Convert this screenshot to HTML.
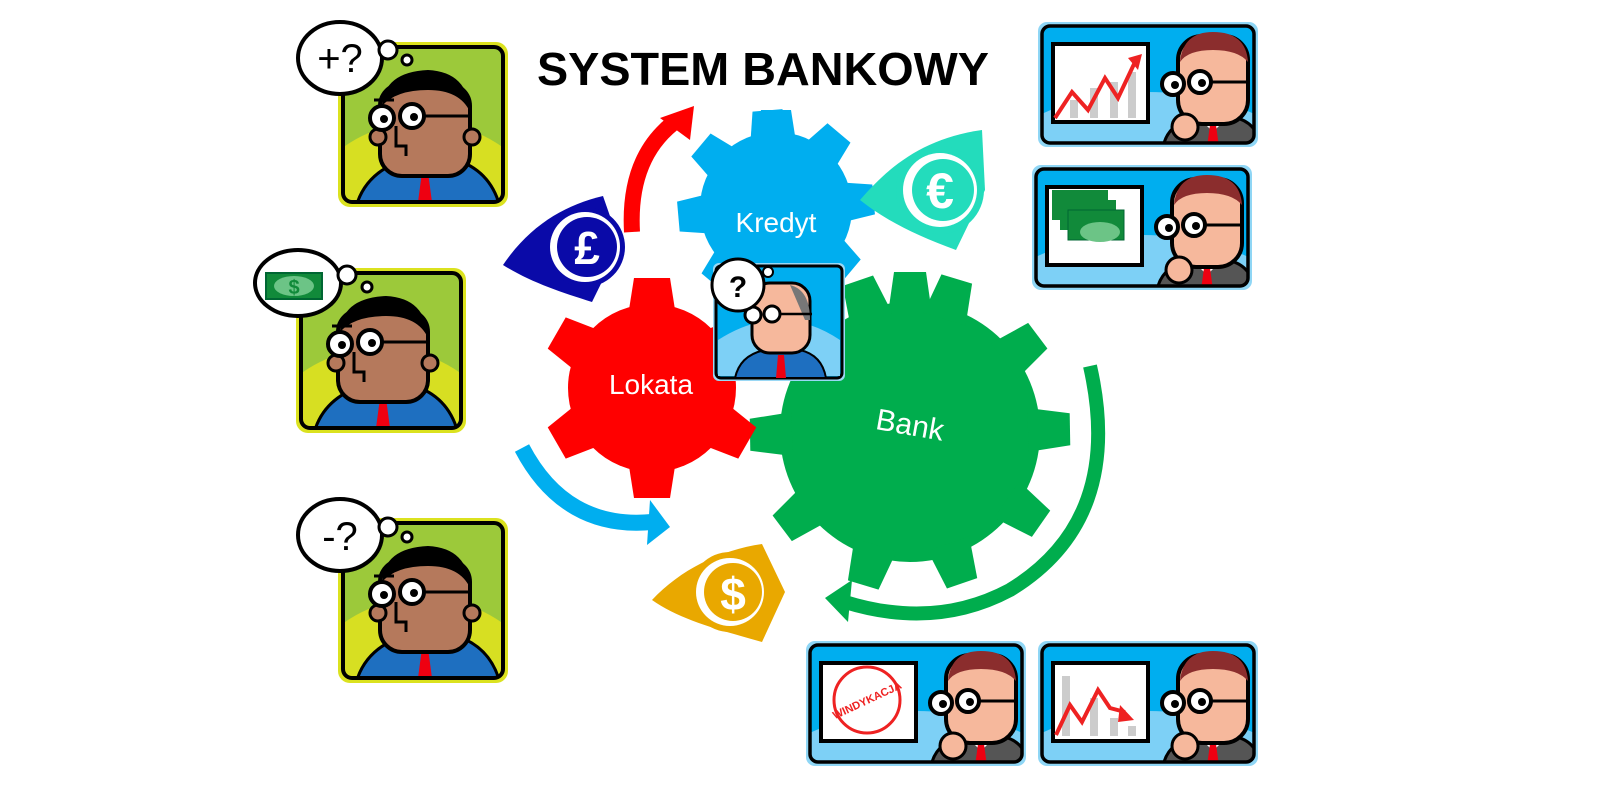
<!DOCTYPE html>
<html><head><meta charset="utf-8"><style>
html,body{margin:0;padding:0;background:#fff;width:1600px;height:803px;overflow:hidden;}
svg{display:block;position:absolute;left:0;top:0;}
text{font-family:"Liberation Sans",sans-serif;}
</style></head><body>
<svg width="1600" height="803" viewBox="0 0 1600 803" xmlns="http://www.w3.org/2000/svg">
<defs>
<clipPath id="lcc"><rect x="6" y="6" width="158" height="153" rx="8"/></clipPath>
<symbol id="lc" viewBox="0 0 170 165">
  <rect x="0" y="0" width="170" height="165" rx="12" fill="#dbe21f"/>
  <g clip-path="url(#lcc)">
    <rect x="6" y="6" width="158" height="153" fill="#9cc93a"/>
    <ellipse cx="85" cy="200" rx="130" ry="120" fill="#d7df22"/>
    <path d="M18,165 Q28,128 72,116 L112,116 Q152,126 162,165 Z" fill="#1e6fc0" stroke="#000" stroke-width="3"/>
    <path d="M70,116 L87,140 L104,116 Z" fill="#fff"/>
    <path d="M84,130 L90,130 L94,160 L87,165 L80,160 Z" fill="#e01"/>
    <rect x="42" y="42" width="90" height="92" rx="22" fill="#b5795c" stroke="#000" stroke-width="4"/>
    <path d="M44,64 Q46,30 90,28 Q130,30 132,70 Q122,48 90,48 Q58,48 44,64 Z" fill="#000"/>
    <circle cx="40" cy="95" r="8" fill="#b5795c" stroke="#000" stroke-width="3"/>
    <circle cx="134" cy="95" r="8" fill="#b5795c" stroke="#000" stroke-width="3"/>
    <circle cx="44" cy="76" r="12" fill="#fff" stroke="#000" stroke-width="4"/>
    <circle cx="74" cy="74" r="12" fill="#fff" stroke="#000" stroke-width="4"/>
    <circle cx="46" cy="77" r="4"/><circle cx="76" cy="75" r="4"/>
    <path d="M86,74 L130,74 M56,58 L36,58 M58,84 L58,104 L68,104 L68,114" stroke="#000" stroke-width="3" fill="none"/>
  </g>
  <rect x="5" y="5" width="160" height="155" rx="9" fill="none" stroke="#000" stroke-width="4"/>
</symbol>
<clipPath id="rcc"><rect x="5" y="5" width="210" height="115" rx="7"/></clipPath>
<symbol id="rc" viewBox="0 0 220 125">
  <rect x="0" y="0" width="220" height="125" rx="9" fill="#8fd6f5"/>
  <g clip-path="url(#rcc)">
    <rect x="5" y="5" width="210" height="115" fill="#00aeef"/>
    <ellipse cx="110" cy="170" rx="170" ry="100" fill="#7dd0f6"/>
    <rect x="15" y="22" width="95" height="78" fill="#fff" stroke="#000" stroke-width="4"/>
    <path d="M125,125 Q130,100 160,95 L195,95 Q220,100 222,125 Z" fill="#555" stroke="#000" stroke-width="3"/>
    <path d="M160,95 L175,110 L190,95 Z" fill="#fff"/>
    <path d="M172,103 L178,103 L181,125 L169,125 Z" fill="#e01"/>
    <rect x="140" y="14" width="70" height="88" rx="24" fill="#f6b89c" stroke="#000" stroke-width="4"/>
    <path d="M142,40 Q145,10 175,10 Q208,10 210,40 Q200,28 175,28 Q150,28 142,40 Z" fill="#8b2d2d"/>
    <circle cx="135" cy="62" r="11" fill="#fff" stroke="#000" stroke-width="4"/>
    <circle cx="162" cy="60" r="11" fill="#fff" stroke="#000" stroke-width="4"/>
    <circle cx="137" cy="63" r="4"/><circle cx="164" cy="61" r="4"/>
    <path d="M173,60 L210,60" stroke="#000" stroke-width="3"/>
    <circle cx="147" cy="105" r="13" fill="#f6b89c" stroke="#000" stroke-width="3"/>
  </g>
  <rect x="4" y="4" width="212" height="117" rx="8" fill="none" stroke="#000" stroke-width="3.5"/>
</symbol>
</defs>

<text x="763" y="85" text-anchor="middle" font-size="46" font-weight="bold" fill="#000" textLength="452" lengthAdjust="spacingAndGlyphs">SYSTEM BANKOWY</text>

<!-- left cards -->
<use href="#lc" x="338" y="42" width="170" height="165"/>
<use href="#lc" x="296" y="268" width="170" height="165"/>
<use href="#lc" x="338" y="518" width="170" height="165"/>
<!-- bubbles -->
<ellipse cx="340" cy="58" rx="42" ry="36" fill="#fff" stroke="#000" stroke-width="4"/>
<circle cx="388" cy="50" r="9" fill="#fff" stroke="#000" stroke-width="3"/>
<circle cx="407" cy="60" r="5" fill="#fff" stroke="#000" stroke-width="3"/>
<text x="340" y="72" text-anchor="middle" font-size="40" fill="#000">+?</text>
<ellipse cx="298" cy="283" rx="43" ry="33" fill="#fff" stroke="#000" stroke-width="4"/>
<circle cx="347" cy="275" r="9" fill="#fff" stroke="#000" stroke-width="3"/>
<circle cx="367" cy="287" r="5" fill="#fff" stroke="#000" stroke-width="3"/>
<rect x="266" y="273" width="56" height="26" fill="#118a3a" stroke="#063" stroke-width="2"/>
<ellipse cx="294" cy="286" rx="20" ry="10" fill="#6cc486"/>
<text x="294" y="294" text-anchor="middle" font-size="20" font-weight="bold" fill="#118a3a">$</text>
<ellipse cx="340" cy="535" rx="42" ry="36" fill="#fff" stroke="#000" stroke-width="4"/>
<circle cx="388" cy="527" r="9" fill="#fff" stroke="#000" stroke-width="3"/>
<circle cx="407" cy="537" r="5" fill="#fff" stroke="#000" stroke-width="3"/>
<text x="340" y="550" text-anchor="middle" font-size="40" fill="#000">-?</text>

<!-- right cards -->
<use href="#rc" x="1038" y="22" width="220" height="125"/>
<rect x="1070" y="100" width="8" height="18" fill="#ccc"/><rect x="1090" y="88" width="8" height="30" fill="#ccc"/><rect x="1110" y="82" width="8" height="36" fill="#ccc"/><rect x="1128" y="72" width="8" height="46" fill="#ccc"/>
<path d="M1055,118 L1072,92 L1088,110 L1105,78 L1118,98 L1135,62" stroke="#e22" stroke-width="4" fill="none"/>
<polygon points="1128,58 1142,54 1138,70" fill="#e22"/>
<use href="#rc" x="1032" y="165" width="220" height="125"/>
<rect x="1052" y="190" width="56" height="30" fill="#118a3a"/><rect x="1060" y="200" width="56" height="30" fill="#118a3a"/><rect x="1068" y="210" width="56" height="30" fill="#118a3a" stroke="#063"/>
<ellipse cx="1100" cy="232" rx="20" ry="10" fill="#6cc486"/>
<use href="#rc" x="806" y="641" width="220" height="125"/>
<circle cx="867" cy="700" r="33" fill="none" stroke="#e22" stroke-width="3"/>
<text x="867" y="704" text-anchor="middle" font-size="11" font-weight="bold" fill="#e22" transform="rotate(-25 867 700)">WINDYKACJA</text>
<use href="#rc" x="1038" y="641" width="220" height="125"/>
<rect x="1062" y="676" width="8" height="60" fill="#ccc"/><rect x="1090" y="698" width="8" height="38" fill="#ccc"/><rect x="1110" y="718" width="8" height="18" fill="#ccc"/><rect x="1128" y="726" width="8" height="10" fill="#ccc"/>
<path d="M1056,735 L1070,705 L1082,722 L1098,690 L1110,708 L1125,712" stroke="#e22" stroke-width="4" fill="none"/>
<polygon points="1120,705 1134,720 1118,722" fill="#e22"/>

<!-- arrows -->
<path d="M632,232 Q628,160 672,124" stroke="#f00" stroke-width="16" fill="none"/>
<polygon points="660,118 694,106 690,140" fill="#f00"/>
<path d="M522,448 Q565,530 652,522" stroke="#00aeef" stroke-width="16" fill="none"/>
<polygon points="650,500 670,527 647,545" fill="#00aeef"/>
<path d="M1090,366 Q1125,520 1010,590 Q935,630 845,602" stroke="#00ad4d" stroke-width="14" fill="none"/>
<polygon points="852,580 825,598 848,622" fill="#00ad4d"/>

<!-- blue gear -->
<g fill="#00aeef" transform="translate(776,208)">
  <circle r="76"/>
  <g id="bt"><polygon points="-20,-66 -15,-98 15,-98 20,-66"/></g>
  <use href="#bt" transform="rotate(-5)"/><use href="#bt" transform="rotate(40)"/><use href="#bt" transform="rotate(85)"/>
  <use href="#bt" transform="rotate(130)"/><use href="#bt" transform="rotate(175)"/><use href="#bt" transform="rotate(220)"/>
  <use href="#bt" transform="rotate(265)"/><use href="#bt" transform="rotate(310)"/>
</g>
<text x="776" y="232" text-anchor="middle" font-size="28" fill="#fff">Kredyt</text>

<!-- green gear -->
<g fill="#00ad4d" transform="translate(910,432)">
  <circle r="130"/>
  <g id="gt"><polygon points="-22,-118 -16,-160 16,-160 22,-118"/></g>
  <use href="#gt" transform="rotate(17)"/><use href="#gt" transform="rotate(53)"/><use href="#gt" transform="rotate(89)"/>
  <use href="#gt" transform="rotate(125)"/><use href="#gt" transform="rotate(161)"/><use href="#gt" transform="rotate(197)"/>
  <use href="#gt" transform="rotate(233)"/><use href="#gt" transform="rotate(269)"/><use href="#gt" transform="rotate(305)"/>
  <use href="#gt" transform="rotate(341)"/>
</g>
<text x="910" y="435" text-anchor="middle" font-size="30" fill="#fff" transform="rotate(10 910 425)">Bank</text>

<!-- red gear -->
<g fill="#f00" transform="translate(652,388)">
  <circle r="84"/>
  <g id="rt"><polygon points="-24,-72 -18,-110 18,-110 24,-72"/></g>
  <use href="#rt" transform="rotate(60)"/><use href="#rt" transform="rotate(120)"/><use href="#rt" transform="rotate(180)"/>
  <use href="#rt" transform="rotate(240)"/><use href="#rt" transform="rotate(300)"/>
</g>
<text x="651" y="394" text-anchor="middle" font-size="28" fill="#fff">Lokata</text>

<!-- center card -->
<rect x="713" y="263" width="132" height="118" rx="6" fill="#9ad8f5"/>
<rect x="716" y="266" width="126" height="112" rx="5" fill="#00aeef" stroke="#000" stroke-width="3"/>
<path d="M718,340 Q780,300 840,340 L840,376 L718,376 Z" fill="#7dd0f6"/>
<path d="M735,378 Q740,355 765,350 L800,350 Q822,355 826,378 Z" fill="#1e6fc0" stroke="#000" stroke-width="2"/>
<path d="M778,355 L784,355 L786,378 L776,378 Z" fill="#e01"/>
<rect x="752" y="283" width="58" height="70" rx="18" fill="#f6b89c" stroke="#000" stroke-width="3"/>
<path d="M790,285 Q810,290 810,320 L805,320 Z" fill="#777"/>
<circle cx="753" cy="315" r="8" fill="#fff" stroke="#000" stroke-width="3"/>
<circle cx="772" cy="314" r="8" fill="#fff" stroke="#000" stroke-width="3"/>
<path d="M780,314 L812,314" stroke="#000" stroke-width="2.5"/>
<circle cx="738" cy="285" r="26" fill="#fff" stroke="#000" stroke-width="3"/>
<circle cx="768" cy="272" r="5" fill="#fff" stroke="#000" stroke-width="2"/>
<text x="738" y="297" text-anchor="middle" font-size="30" font-weight="bold" fill="#000">?</text>

<!-- currency icons -->
<path d="M503,265 C530,225 565,205 603,196 L620,245 L592,302 C560,292 530,282 503,265 Z" fill="#0a0aa8"/>
<circle cx="585" cy="247" r="40" fill="#0a0aa8"/><circle cx="585" cy="247" r="35" fill="#fff"/><circle cx="587" cy="247" r="30" fill="#0a0aa8"/>
<text x="587" y="264" text-anchor="middle" font-size="46" font-weight="bold" fill="#fff">£</text>

<path d="M860,200 C890,165 925,138 982,130 L985,190 L956,250 C915,235 885,220 860,200 Z" fill="#23dcbc"/>
<circle cx="940" cy="190" r="44" fill="#23dcbc"/><circle cx="940" cy="190" r="37" fill="#fff"/><circle cx="943" cy="190" r="31" fill="#23dcbc"/>
<text x="940" y="208" text-anchor="middle" font-size="50" font-weight="bold" fill="#fff">€</text>

<path d="M652,600 C680,570 720,550 762,544 L785,592 L762,642 C720,630 680,620 652,600 Z" fill="#e9a800"/>
<circle cx="730" cy="592" r="40" fill="#e9a800"/><circle cx="730" cy="592" r="34" fill="#fff"/><circle cx="733" cy="592" r="29" fill="#e9a800"/>
<text x="733" y="610" text-anchor="middle" font-size="46" font-weight="bold" fill="#fff">$</text>
</svg>
</body></html>
